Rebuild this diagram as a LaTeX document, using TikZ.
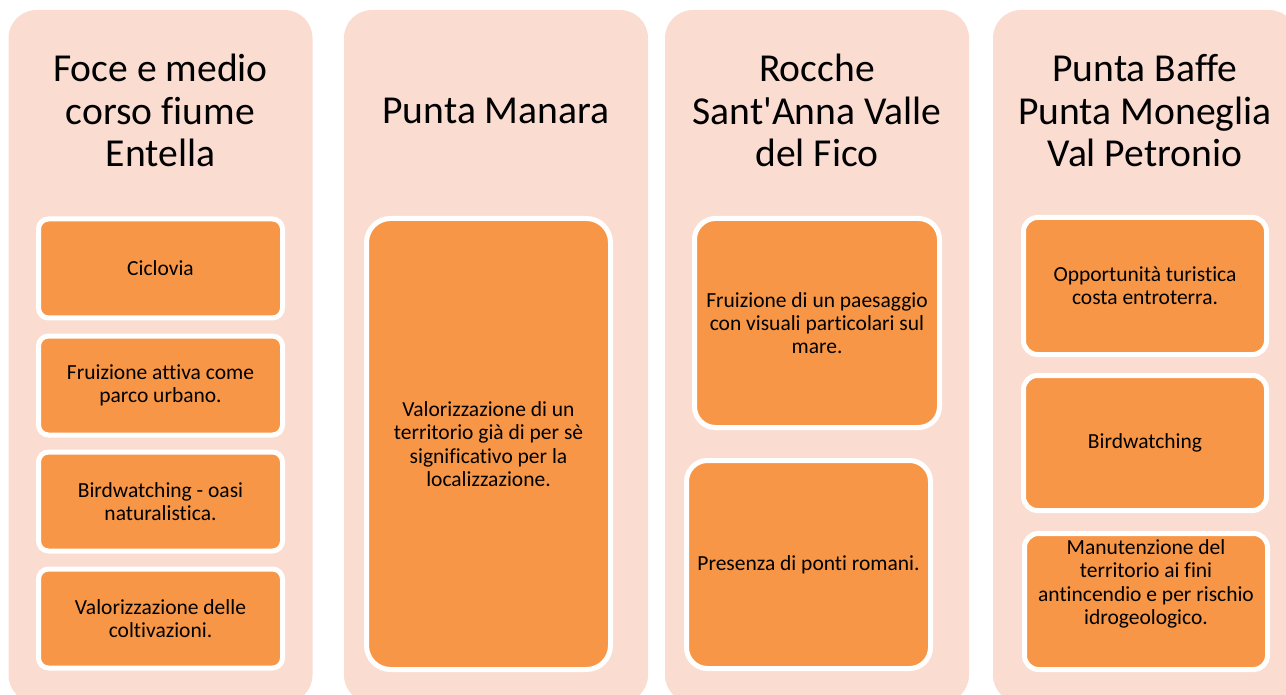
\documentclass[tikz,border=0pt]{standalone}
\usepackage{fontspec}
\setmainfont[Ligatures={NoCommon,NoContextual}]{Carlito}
\definecolor{panelF}{HTML}{FBDCD0}
\definecolor{boxF}{HTML}{F79646}
\begin{document}
\begin{tikzpicture}[x=1pt,y=-1pt,
  panel/.style={rectangle, fill=panelF, draw=none, rounded corners=28pt, minimum width=304pt, minimum height=693pt, inner sep=0pt},
  title/.style={anchor=base, align=center, font=\fontsize{39.6}{42.6}\selectfont, inner sep=0pt},
  box/.style={rectangle, fill=boxF, draw=white, line width=5pt, inner sep=0pt, align=center, font=\fontsize{21.5}{23.3}\selectfont},
  boxtext/.style={align=center, inner sep=0pt, font=\fontsize{21.5}{23.3}\selectfont}]
\useasboundingbox (0,0) rectangle (1286,695);
\clip (0,0) rectangle (1286,695);
% panels
\node[panel] (pan1) at (160.5,356.5) {};
\node[panel] (pan2) at (496,356.5) {};
\node[panel] (pan3) at (817,356.5) {};
\node[panel] (pan4) at (1145,356.5) {};
% titles (base anchor = baseline of last line)
\node[title] (t1) at (160.5,167) {Foce e medio\\corso fiume\\Entella};
\node[title] (t2) at (496,124) {Punta Manara};
\node[title] (t3) at (817,167) {Rocche\\Sant\textquotesingle Anna Valle\\del Fico};
\node[title] (t4) at (1145,167) {Punta Baffe\\Punta Moneglia\\Val Petronio};
% panel 1 boxes
\node[box, rounded corners=10pt, minimum width=244pt, minimum height=99pt] (p1b1) at (160.5,268.5) {Ciclovia};
\node[box, rounded corners=10pt, minimum width=244pt, minimum height=99pt] (p1b2) at (160.5,385.5) {Fruizione attiva come\\parco urbano.};
\node[box, rounded corners=10pt, minimum width=244pt, minimum height=99pt] (p1b3) at (160.5,501.5) {Birdwatching - oasi\\naturalistica.};
\node[box, rounded corners=10pt, minimum width=244pt, minimum height=99pt] (p1b4) at (160.5,618.5) {Valorizzazione delle\\coltivazioni.};
% panel 2 box
\node[box, rounded corners=24pt, minimum width=244pt, minimum height=451pt] (p2b1) at (488.5,444) {Valorizzazione di un\\territorio già di per sè\\significativo per la\\localizzazione.};
% panel 3 boxes
\node[box, rounded corners=21pt, minimum width=245pt, minimum height=209pt] (p3b1) at (817,323) {Fruizione di un paesaggio\\con visuali particolari sul\\mare.};
\node[box, rounded corners=21pt, minimum width=244pt, minimum height=208pt] (p3b2) at (808.5,564.5) {Presenza di ponti romani.};
% panel 4 boxes
\node[box, rounded corners=14pt, minimum width=243pt, minimum height=137pt] (p4b1) at (1145,286) {Opportunità turistica\\costa entroterra.};
\node[box, rounded corners=14pt, minimum width=243pt, minimum height=135pt] (p4b2) at (1145,443) {Birdwatching};
\node[box, rounded corners=14pt, minimum width=243pt, minimum height=136pt] (p4b3) at (1146,601.5) {};
\node[boxtext] (p4b3t) at (1146,584) {Manutenzione del\\territorio ai fini\\antincendio e per rischio\\idrogeologico.};
\end{tikzpicture}
\end{document}
